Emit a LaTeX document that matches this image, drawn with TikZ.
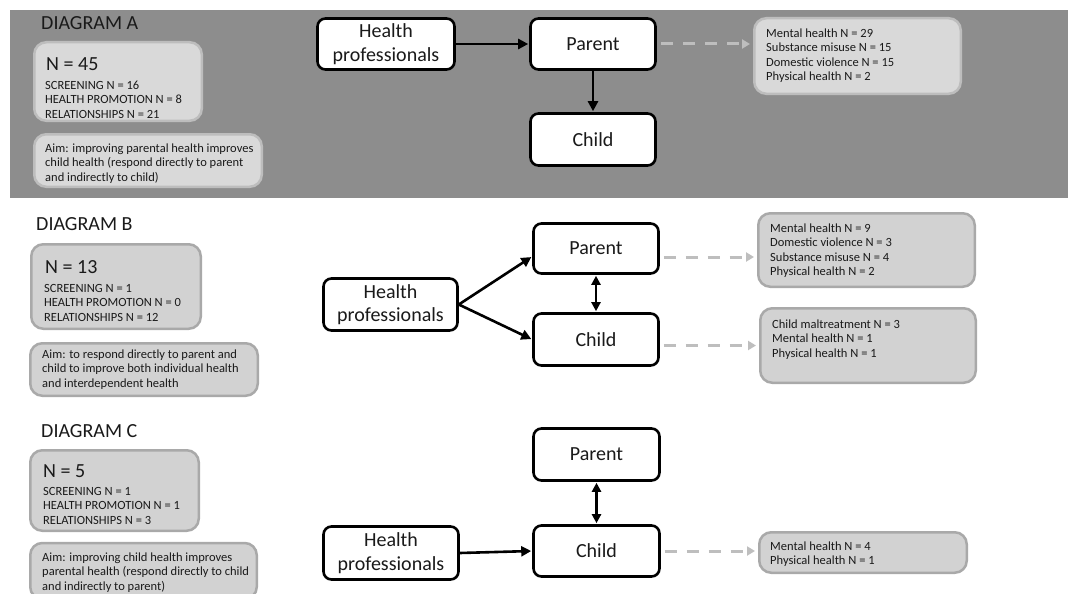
\documentclass[tikz,border=0pt]{standalone}
\usepackage{fontspec}
\setmainfont{Carlito}
\usetikzlibrary{arrows.meta}
\definecolor{bandgray}{HTML}{8D8D8D}
\definecolor{boxfill}{HTML}{D2D2D2}
\definecolor{boxline}{HTML}{A9A9A9}
\definecolor{boxfillA}{HTML}{D9D9D9}
\definecolor{boxlineA}{HTML}{BDBDBD}
\definecolor{dashgray}{HTML}{BEBEBE}
\definecolor{inkc}{HTML}{1A1A1A}
\begin{document}
\begin{tikzpicture}[x=1pt,y=-1pt,
 actor/.style={draw=black, line width=2.6pt, rounded corners=8pt, fill=white, align=center,
   font=\fontsize{20}{23.5}\selectfont, text=inkc, inner sep=0pt},
 infobox/.style={draw=boxline, fill=boxfill, line width=2.5pt, rounded corners=12pt, inner sep=0pt},
 infoboxA/.style={infobox, draw=boxlineA, fill=boxfillA},
 smalltext/.style={anchor=north west, inner sep=0pt, align=left, font=\fontsize{12.5}{14.5}\selectfont, text=inkc},
 bigtext/.style={anchor=west, inner sep=0pt, font=\fontsize{20}{24}\selectfont, text=inkc},
 solidarrow/.style={line width=2.6pt, -{Triangle[length=10pt,width=10pt]}, shorten >=1pt},
 twoway/.style={line width=2.6pt, {Triangle[length=9pt,width=9pt]}-{Triangle[length=9pt,width=9pt]}, shorten >=1pt, shorten <=1pt},
 dasharrow/.style={draw=dashgray, line width=3pt, dash pattern=on 12pt off 10pt,
   -{Triangle[length=8pt,width=9pt]}, shorten <=4pt, shorten >=3pt}
]
\useasboundingbox (0,0) rectangle (1068,594);
\clip (0,0) rectangle (1068,594);
\fill[white] (0,0) rectangle (1068,594);
\fill[bandgray] (10,10) rectangle (1068,198);

% ---------------- DIAGRAM A ----------------
\node[bigtext] (tA) at (41,23) {DIAGRAM A};
\node[infoboxA, minimum width=167.5pt, minimum height=78.5pt] (nA) at (118,81.5) {};
\node[bigtext] (NA) at (46,64) {N = 45};
\node[smalltext] (sA) at (45,78.8) {\strut SCREENING N = 16\\HEALTH PROMOTION N = 8\\RELATIONSHIPS N = 21};
\node[infoboxA, minimum width=227.5pt, minimum height=52.5pt] (aA) at (148,160.5) {};
\node[smalltext] (aimA) at (45,141.8) {\strut Aim: improving parental health improves\\child health (respond directly to parent\\and indirectly to child)};

\node[actor, minimum width=137pt, minimum height=51pt] (hA) at (386,44) {Health\\professionals};
\node[actor, minimum width=125pt, minimum height=51pt] (pA) at (593,44) {Parent};
\node[actor, minimum width=125pt, minimum height=52pt] (cA) at (593,139.5) {Child};
\node[infoboxA, minimum width=206.5pt, minimum height=75.5pt] (oA) at (857.5,56) {};
\node[smalltext] (oAt) at (766,26.8) {\strut Mental health N = 29\\Substance misuse N = 15\\Domestic violence N = 15\\Physical health N = 2};

\draw[solidarrow] (hA.east) -- (pA.west);
\draw[solidarrow] (pA.south) -- (cA.north);
\draw[dasharrow] (pA.east) -- (pA.east -| oA.west);

% ---------------- DIAGRAM B ----------------
\node[bigtext] (tB) at (36,224) {DIAGRAM B};
\node[infobox, minimum width=169.5pt, minimum height=84.5pt] (nB) at (116,286.5) {};
\node[bigtext] (NB) at (45,267) {N = 13};
\node[smalltext] (sB) at (44,281.8) {\strut SCREENING N = 1\\HEALTH PROMOTION N = 0\\RELATIONSHIPS N = 12};
\node[infobox, minimum width=227.5pt, minimum height=52.5pt] (aB) at (144,369.5) {};
\node[smalltext] (aimB) at (42,347.8) {\strut Aim: to respond directly to parent and\\child to improve both individual health\\and interdependent health};

\node[actor, minimum width=134pt, minimum height=52pt] (hB) at (390.5,304.5) {Health\\professionals};
\node[actor, minimum width=125pt, minimum height=50pt] (pB) at (596,248.5) {Parent};
\node[actor, minimum width=125pt, minimum height=52pt] (cB) at (596,339.5) {Child};
\node[infobox, minimum width=216.5pt, minimum height=73.5pt] (oB1) at (866.5,250) {};
\node[smalltext] (oB1t) at (770,221.8) {\strut Mental health N = 9\\Domestic violence N = 3\\Substance misuse N = 4\\Physical health N = 2};
\node[infobox, minimum width=215.5pt, minimum height=74.5pt] (oB2) at (868,345.5) {};
\node[smalltext] (oB2t) at (772,317.8) {\strut Child maltreatment N = 3\\Mental health N = 1\\Physical health N = 1};

\draw[solidarrow] (hB.east) -- ([yshift=-8pt]pB.west);
\draw[solidarrow] (hB.east) -- (cB.west);
\draw[twoway] (pB.south) -- (cB.north);
\path ([yshift=-8.5pt]pB.east) coordinate (dB1);
\draw[dasharrow] (dB1) -- (dB1 -| oB1.west);
\draw[dasharrow] (cB.east |- oB2.west) -- (oB2.west);

% ---------------- DIAGRAM C ----------------
\node[bigtext] (tC) at (41,431) {DIAGRAM C};
\node[infobox, minimum width=168.5pt, minimum height=80.5pt] (nC) at (114.5,490.5) {};
\node[bigtext] (NC) at (43,471) {N = 5};
\node[smalltext] (sC) at (43,484.8) {\strut SCREENING N = 1\\HEALTH PROMOTION N = 1\\RELATIONSHIPS N = 3};
\node[infobox, minimum width=226.5pt, minimum height=56pt] (aC) at (143.5,571) {};
\node[smalltext] (aimC) at (42,550.8) {\strut Aim: improving child health improves\\parental health (respond directly to child\\and indirectly to parent)};

\node[actor, minimum width=135pt, minimum height=53pt] (hC) at (391,553) {Health\\professionals};
\node[actor, minimum width=126pt, minimum height=52pt] (pC) at (596.5,454.5) {Parent};
\node[actor, minimum width=126pt, minimum height=51pt] (cC) at (596.5,551) {Child};
\node[infobox, minimum width=207.5pt, minimum height=40.5pt] (oC) at (863,552.5) {};
\node[smalltext] (oCt) at (770,539.8) {\strut Mental health N = 4\\Physical health N = 1};

\draw[solidarrow] (hC.east) -- (cC.west);
\draw[twoway] (pC.south) -- (cC.north);
\draw[dasharrow] (cC.east) -- (cC.east -| oC.west);
\end{tikzpicture}
\end{document}
